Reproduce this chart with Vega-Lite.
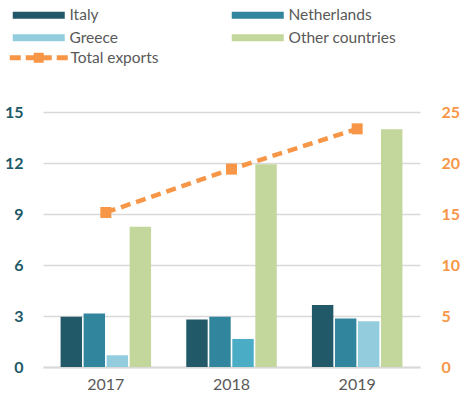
{
  "$schema": "https://vega.github.io/schema/vega-lite/v6.json",
  "width": 377,
  "height": 255,
  "autosize": {"type": "none"},
  "padding": {"left": 43, "top": 112, "right": 47, "bottom": 36},
  "background": "white",
  "config": {
    "view": {"stroke": null},
    "font": "Lato",
    "legend": {"labelFont": "Lato", "labelFontSize": 15.5, "labelColor": "#595959"}
  },
  "datasets": {
    "bars": [
      {"year": "2017", "country": "Italy", "value": 2.95},
      {"year": "2017", "country": "Netherlands", "value": 3.15},
      {"year": "2017", "country": "Greece", "value": 0.69},
      {"year": "2017", "country": "Other countries", "value": 8.25},
      {"year": "2018", "country": "Italy", "value": 2.8},
      {"year": "2018", "country": "Netherlands", "value": 2.95},
      {"year": "2018", "country": "Greece", "value": 1.65},
      {"year": "2018", "country": "Other countries", "value": 11.93},
      {"year": "2019", "country": "Italy", "value": 3.64},
      {"year": "2019", "country": "Netherlands", "value": 2.85},
      {"year": "2019", "country": "Greece", "value": 2.69},
      {"year": "2019", "country": "Other countries", "value": 13.99}
    ],
    "totals": [
      {"year": "2017", "series": "Total exports", "total": 15.15},
      {"year": "2018", "series": "Total exports", "total": 19.4},
      {"year": "2019", "series": "Total exports", "total": 23.35}
    ]
  },
  "layer": [
    {
      "data": {"name": "bars"},
      "mark": {"type": "bar"},
      "encoding": {
        "x": {
          "field": "year", "type": "nominal",
          "scale": {"paddingInner": 0.28, "paddingOuter": 0.14},
          "axis": {"title": null, "labelAngle": 0, "labelFontSize": 16, "labelColor": "#595959", "ticks": false, "domain": true, "domainColor": "#D9D9D9", "domainWidth": 2, "labelPadding": 9}
        },
        "xOffset": {"field": "country", "type": "nominal", "sort": ["Italy", "Netherlands", "Greece", "Other countries"], "scale": {"paddingInner": 0.07}},
        "y": {
          "field": "value", "type": "quantitative",
          "scale": {"domain": [0, 15]},
          "axis": {"title": null, "values": [0, 3, 6, 9, 12, 15], "labelFontSize": 16, "labelFontWeight": "bold", "labelColor": "#215968", "ticks": false, "domain": false, "labelPadding": 20, "grid": true, "gridColor": "#D9D9D9", "gridWidth": 1.5}
        },
        "color": {
          "field": "country", "type": "nominal",
          "sort": ["Italy", "Netherlands", "Greece", "Other countries"],
          "scale": {"domain": ["Italy", "Netherlands", "Greece", "Other countries"], "range": ["#215968", "#31859C", "#93CDDD", "#C3D69B"]},
          "condition": {"test": "datum.year == '2018' && datum.country == 'Greece'", "value": "#4BACC6"},
          "legend": {"title": null, "orient": "none", "direction": "horizontal", "legendX": -12, "legendY": -105, "columns": 2, "columnPadding": 113, "rowPadding": 6, "labelOffset": 23, "symbolType": "M-5.2,-0.7H5.2V0.7H-5.2Z", "symbolSize": 100, "symbolStrokeWidth": 0}
        }
      }
    },
    {
      "data": {"name": "totals"},
      "encoding": {
        "x": {"field": "year", "type": "nominal"},
        "y": {
          "field": "total", "type": "quantitative",
          "scale": {"domain": [0, 25]},
          "axis": {"title": null, "orient": "right", "values": [0, 5, 10, 15, 20, 25], "labelFontSize": 16, "labelFontWeight": "bold", "labelColor": "#F79646", "ticks": false, "domain": false, "labelPadding": 21, "grid": false}
        }
      },
      "layer": [
        {"mark": {"type": "line", "color": "#F79646", "strokeWidth": 4.5, "strokeDash": [10, 6], "strokeCap": "butt"}},
        {
          "mark": {"type": "point", "shape": "square", "size": 121, "filled": true, "opacity": 1},
          "encoding": {
            "color": {
              "field": "series", "type": "nominal",
              "scale": {"range": ["#F79646"]},
              "legend": {"title": null, "orient": "none", "legendX": -12, "legendY": -62, "labelOffset": 24, "symbolType": "M-5.8,-0.5H-3.6V0.5H-5.8Z M-2.6,-0.5H2.6V0.5H-2.6Z M-1,-1H1V1H-1Z M3.6,-0.5H5.8V0.5H3.6Z", "symbolSize": 100, "symbolStrokeWidth": 0, "symbolOpacity": 1}
            }
          }
        }
      ]
    }
  ],
  "resolve": {"scale": {"y": "independent", "color": "independent"}}
}
